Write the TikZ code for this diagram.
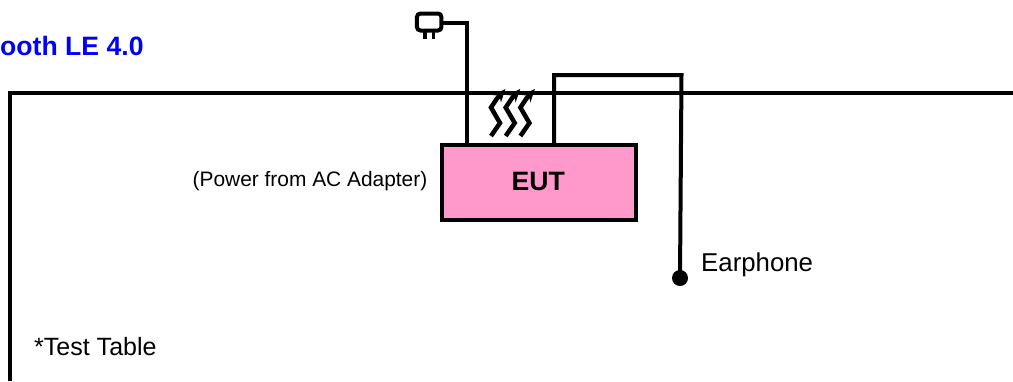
\documentclass[tikz,border=0pt]{standalone}
\usepackage{fontspec}
\setmainfont{Liberation Sans}
\usetikzlibrary{arrows.meta}
\definecolor{eutpink}{HTML}{FF99CC}
\tikzset{
  heavy/.style={draw=black,line width=4pt,line join=miter},
  medium/.style={draw=black,line width=3.6pt},
  eutbox/.style={heavy,fill=eutpink,minimum width=194pt,minimum height=75pt,inner sep=0pt},
  plugbody/.style={draw=black,line width=4pt,fill=white,rounded corners=3.5pt,minimum width=24.5pt,minimum height=17pt,inner sep=0pt},
  plain/.style={inner sep=0pt,anchor=base west,text=black},
  wave/.style={draw=black,line width=4.5pt,-{Stealth[length=13pt,width=11pt]}},
  earpiece/.style={circle,fill=black,minimum size=16pt,inner sep=0pt},
}
\begin{document}
\begin{tikzpicture}[x=1pt,y=-1pt]
\useasboundingbox (0,0) rectangle (1013,381);
% table
\coordinate (tl) at (10,92.5);
\coordinate (tb) at (10,381);
\coordinate (tr) at (1013,92.5);
\draw[heavy] (tb) -- (tl) -- (tr);
% EUT
\node[eutbox] (eut) at (538.5,182) {};
\node[plain,font=\fontsize{26.6}{30}\selectfont\bfseries] (eutlabel) at (511.5,190) {EUT};
% plug
\node[plugbody] (plug) at (429.2,22) {};
\coordinate (pa) at (425,31);
\coordinate (pb) at (433.3,31);
\coordinate (pc) at (425,39);
\coordinate (pd) at (433.3,39);
\draw[medium] (pa) -- (pc) (pb) -- (pd);
\coordinate (c1) at (467,145);
\coordinate (c1a) at (467,23.3);
\draw[heavy] (plug.east |- c1a) -- (c1a) -- (c1);
% earphone
\node[earpiece] (ear) at (680,278) {};
\coordinate (c2) at (554,145);
\coordinate (c2a) at (554,75);
\coordinate (c2b) at (681.5,75);
\draw[heavy] (c2) -- (c2a) -- (c2b) -- (ear.center);
% wireless
\foreach \dx [count=\i] in {0,14.7,29.4}{
  \coordinate (wa\i) at (491+\dx,136);
  \coordinate (wb\i) at (500+\dx,123);
  \coordinate (wc\i) at (491+\dx,107.5);
  \coordinate (wd\i) at (497+\dx,98.5);
  \coordinate (we\i) at (505.5+\dx,89);
  \draw[wave] (wa\i) -- (wb\i) -- (wc\i) -- (wd\i) -- (we\i);
}
% labels
\node[plain,text=blue,font=\fontsize{26.6}{30}\selectfont\bfseries] (title) at (0,55) {ooth LE 4.0};
\node[plain,font=\fontsize{20.9}{25}\selectfont] (power) at (192.5,186.7) {(Power from AC Adapter)};
\node[plain,font=\fontsize{25.8}{30}\selectfont] (earlabel) at (701,271.7) {Earphone};
\node[plain,font=\fontsize{25}{30}\selectfont] (tablelabel) at (34,355) {*Test Table};
\end{tikzpicture}
\end{document}
